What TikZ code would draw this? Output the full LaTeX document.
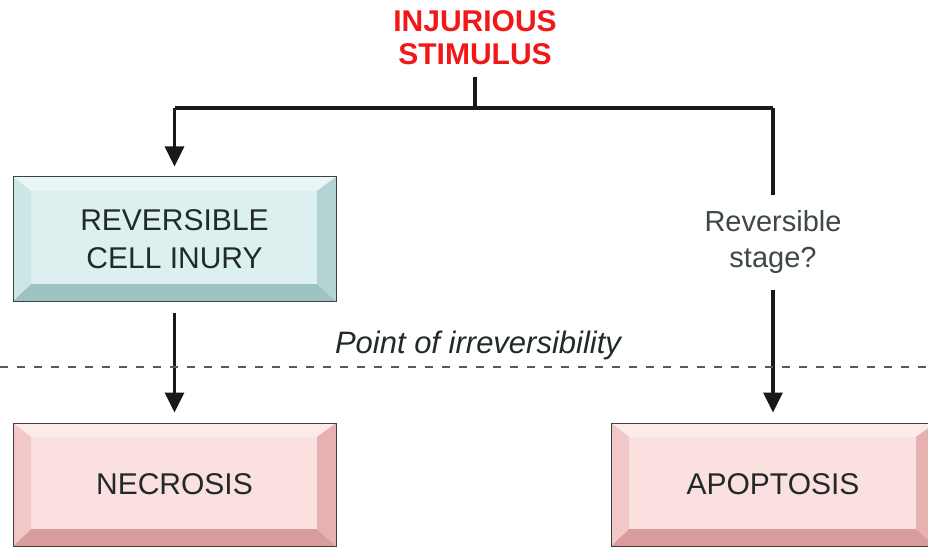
\documentclass[tikz,border=0pt]{standalone}
\usepackage{fontspec}
\setmainfont{Liberation Sans}
\usetikzlibrary{arrows.meta,calc}
\definecolor{cyface}{HTML}{DDF0F0}
\definecolor{cytop}{HTML}{E9F6F6}
\definecolor{cyleft}{HTML}{CCE5E5}
\definecolor{cyright}{HTML}{B4D3D3}
\definecolor{cybot}{HTML}{9DC3C3}
\definecolor{pkface}{HTML}{FBE0E0}
\definecolor{pktop}{HTML}{FDEAEA}
\definecolor{pkleft}{HTML}{F2C7C7}
\definecolor{pkright}{HTML}{E8B1B1}
\definecolor{pkbot}{HTML}{D99D9D}
\definecolor{titlered}{HTML}{F01818}
\definecolor{gtext}{HTML}{3E4847}
\definecolor{dtext}{HTML}{222A29}
\tikzset{
  bev/.style={draw=black!75, line width=1pt, inner sep=0pt, align=center,
    font=\fontsize{30}{38}\selectfont, text=dtext, fill=#1face,
    path picture={
      \fill[#1top] (path picture bounding box.north west) -- (path picture bounding box.north east)
        -- ([xshift=-19pt,yshift=-14pt]path picture bounding box.north east)
        -- ([xshift=18pt,yshift=-14pt]path picture bounding box.north west) -- cycle;
      \fill[#1bot] (path picture bounding box.south west) -- (path picture bounding box.south east)
        -- ([xshift=-19pt,yshift=17pt]path picture bounding box.south east)
        -- ([xshift=18pt,yshift=17pt]path picture bounding box.south west) -- cycle;
      \fill[#1left] (path picture bounding box.north west)
        -- ([xshift=18pt,yshift=-14pt]path picture bounding box.north west)
        -- ([xshift=18pt,yshift=17pt]path picture bounding box.south west)
        -- (path picture bounding box.south west) -- cycle;
      \fill[#1right] (path picture bounding box.north east)
        -- ([xshift=-19pt,yshift=-14pt]path picture bounding box.north east)
        -- ([xshift=-19pt,yshift=17pt]path picture bounding box.south east)
        -- (path picture bounding box.south east) -- cycle;
    }},
  conn/.style={line width=3.2pt, draw=black!90},
  arr/.style={conn, -{Triangle[width=19pt,length=20pt]}},
}
\begin{document}
\begin{tikzpicture}[x=1pt,y=-1pt]
\useasboundingbox (0,0) rectangle (928,548);
\fill[white] (0,0) rectangle (928,548);
\clip (0,0) rectangle (928,548);

\node[text=titlered, font=\fontsize{30}{33}\selectfont\bfseries, align=center, inner sep=0pt] (stim) at (475,38) {INJURIOUS\\STIMULUS};

\node[bev=cy, minimum width=323pt, minimum height=124pt] (rev) at (174.5,239) {REVERSIBLE\\CELL INURY};
\node[bev=pk, minimum width=323pt, minimum height=123pt] (nec) at (174.5,484.5) {NECROSIS};
\node[bev=pk, minimum width=324pt, minimum height=123pt] (apo) at (773,484.5) {APOPTOSIS};

\node[text=gtext, font=\fontsize{29}{36}\selectfont, align=center, inner sep=0pt, minimum height=95pt] (rs) at (773,242.5) {Reversible\\stage?};

\node[text=dtext, font=\fontsize{31}{36}\selectfont\itshape, inner sep=0pt] (pt) at (478,345) {Point of irreversibility};

\coordinate (j) at (475,108);
\coordinate (dl) at (0,367);
\coordinate (dr) at (928,367);

\draw[conn] ([yshift=-12pt]stim.south) -- (j);
\draw[conn] (rev.north |- j) -- (apo.north |- j);
\draw[arr] (rev.north |- j) -- ([yshift=10pt]rev.north);
\draw[conn] (apo.north |- j) -- (rs.north);
\draw[arr] (rs.south) -- ([yshift=10pt]apo.north);
\draw[arr] ([yshift=-11pt]rev.south) -- ([yshift=10pt]nec.north);

\draw[black!65, line width=1.8pt, dash pattern=on 8pt off 9pt] (dl) -- (dr);
\end{tikzpicture}
\end{document}
